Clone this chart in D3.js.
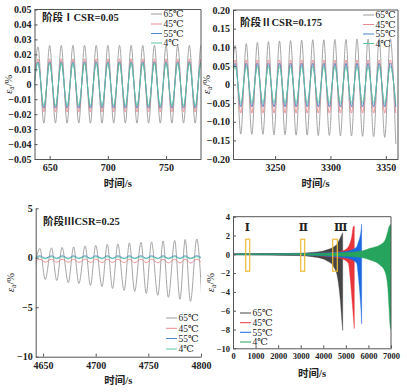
<!DOCTYPE html>
<html><head><meta charset="utf-8">
<script src="https://cdn.jsdelivr.net/npm/d3@7"></script>
<style>body{margin:0;background:#fff}</style>
</head><body><svg id="c" width="407" height="392"></svg>
<script>
// ---------- DATA ----------
const seriesNames = ["65℃", "45℃", "55℃", "4℃"];
const lightColors = ["#9c9c9c", "#e98a8e", "#4f86c6", "#5cc9a2"];
const darkColors  = ["#444444", "#e8353c", "#1c68e0", "#26a35c"];

// Panel 1 (stage I, CSR=0.05): extrema of each cycle
const p1PeakT   = [640,650,660,670,680,690,700,710,720,730,740,750,760,770,780];
const p1TroughT = [635,645,655,665,675,685,695,705,715,725,735,745,755,765,775,785];
const p1Peak = [
  [0.025,0.026,0.026,0.026,0.026,0.026,0.026,0.026,0.026,0.026,0.026,0.026,0.026,0.026,0.026],
  [0.017,0.017,0.017,0.017,0.017,0.017,0.017,0.017,0.017,0.017,0.017,0.017,0.017,0.017,0.017],
  [0.015,0.015,0.015,0.015,0.015,0.015,0.015,0.015,0.015,0.015,0.015,0.015,0.015,0.015,0.015],
  [0.014,0.014,0.014,0.014,0.014,0.014,0.014,0.014,0.014,0.014,0.014,0.014,0.014,0.014,0.014]];
const p1Trough = [
  [-0.026,-0.026,-0.026,-0.026,-0.026,-0.026,-0.026,-0.026,-0.026,-0.026,-0.026,-0.026,-0.026,-0.026,-0.026,-0.026],
  [-0.0185,-0.0185,-0.0185,-0.0185,-0.0185,-0.0185,-0.0185,-0.0185,-0.0185,-0.0185,-0.0185,-0.0185,-0.0185,-0.0185,-0.0185,-0.0185],
  [-0.016,-0.016,-0.016,-0.016,-0.016,-0.016,-0.016,-0.016,-0.016,-0.016,-0.016,-0.016,-0.016,-0.016,-0.016,-0.016],
  [-0.0145,-0.0145,-0.0145,-0.0145,-0.0145,-0.0145,-0.0145,-0.0145,-0.0145,-0.0145,-0.0145,-0.0145,-0.0145,-0.0145,-0.0145,-0.0145]];
const p1XTicks = [650, 700, 750];
const p1YTicks = [-0.05,-0.04,-0.03,-0.02,-0.01,0,0.01,0.02,0.03,0.04,0.05];

// Panel 2 (stage II, CSR=0.175)
const p2PeakT   = [3214,3224,3234,3244,3254,3264,3274,3284,3294,3304,3314,3324,3334,3344,3354];
const p2TroughT = [3209,3219,3229,3239,3249,3259,3269,3279,3289,3299,3309,3319,3329,3339,3349,3359];
const p2Peak = [
  [0.105,0.110,0.113,0.115,0.117,0.118,0.119,0.120,0.120,0.121,0.121,0.122,0.122,0.123,0.123],
  [0.066,0.066,0.066,0.066,0.066,0.066,0.066,0.066,0.066,0.066,0.066,0.066,0.066,0.066,0.066],
  [0.057,0.057,0.057,0.057,0.057,0.057,0.057,0.057,0.057,0.057,0.057,0.057,0.057,0.057,0.057],
  [0.048,0.048,0.048,0.048,0.048,0.048,0.048,0.048,0.048,0.048,0.048,0.048,0.048,0.048,0.048]];
const p2Trough = [
  [-0.130,-0.133,-0.134,-0.134,-0.135,-0.135,-0.136,-0.136,-0.137,-0.137,-0.138,-0.138,-0.139,-0.140,-0.142,-0.160],
  [-0.077,-0.077,-0.077,-0.077,-0.077,-0.077,-0.077,-0.077,-0.077,-0.077,-0.077,-0.077,-0.077,-0.077,-0.077,-0.077],
  [-0.060,-0.060,-0.060,-0.060,-0.060,-0.060,-0.060,-0.060,-0.060,-0.060,-0.060,-0.060,-0.060,-0.060,-0.060,-0.060],
  [-0.050,-0.050,-0.050,-0.050,-0.050,-0.050,-0.050,-0.050,-0.050,-0.050,-0.050,-0.050,-0.050,-0.050,-0.050,-0.050]];
const p2XTicks = [3250, 3300, 3350];
const p2YTicks = [-0.20,-0.15,-0.10,-0.05,0,0.05,0.10,0.15,0.20];

// Panel 3 (stage III, CSR=0.25)
const p3PeakT   = [4647,4658,4668,4679,4690,4700,4711,4721,4732,4743,4753,4764,4775,4785,4796];
const p3TroughT = [4642,4652,4663,4674,4684,4695,4706,4716,4727,4737,4748,4759,4769,4780,4790,4801];
const p3Peak = [
  [0.95,1.0,1.05,1.1,1.2,1.25,1.35,1.4,1.5,1.55,1.6,1.7,1.75,1.85,1.9],
  [-0.15,-0.15,-0.15,-0.15,-0.15,-0.15,-0.15,-0.15,-0.15,-0.15,-0.15,-0.15,-0.15,-0.15,-0.15],
  [0.2,0.2,0.2,0.2,0.2,0.2,0.2,0.2,0.2,0.2,0.2,0.2,0.2,0.2,0.2],
  [0.1,0.1,0.1,0.1,0.1,0.1,0.1,0.1,0.1,0.1,0.1,0.1,0.1,0.1,0.1]];
const p3Trough = [
  [-1.0,-2.2,-2.3,-2.5,-2.6,-2.8,-2.9,-3.1,-3.3,-3.4,-3.6,-3.8,-4.0,-4.2,-4.4,-4.6],
  [-0.45,-0.45,-0.45,-0.46,-0.46,-0.47,-0.48,-0.48,-0.49,-0.5,-0.5,-0.51,-0.52,-0.53,-0.54,-0.55],
  [-0.05,-0.05,-0.05,-0.05,-0.05,-0.05,-0.05,-0.05,-0.05,-0.05,-0.05,-0.05,-0.05,-0.05,-0.05,-0.05],
  [-0.1,-0.1,-0.1,-0.1,-0.1,-0.1,-0.1,-0.1,-0.1,-0.1,-0.1,-0.1,-0.1,-0.1,-0.1,-0.1]];
const p3XTicks = [4650, 4700, 4750, 4800];
const p3YTicks = [-10, -5, 0, 5];

// Panel 4 (whole test): envelopes of each series
const p4T = [
  [0,1000,2000,3000,3500,4000,4200,4400,4500,4600,4700,4760,4820,4860],
  [0,1000,2000,3000,4000,4500,4900,5110,5185,5260,5330,5375],
  [0,1000,2000,3000,4000,4500,5000,5300,5480,5555,5630,5670,5700],
  [0,1000,2000,3000,4000,5000,5700,6070,6510,6735,6855,6910,6956,7000]];
const p4Upper = [
  [0.05,0.06,0.08,0.12,0.2,0.35,0.5,0.7,0.85,1.05,1.5,1.8,2.1,2.3],
  [0.04,0.05,0.06,0.08,0.15,0.22,0.4,0.8,1.2,1.87,2.94,3.0],
  [0.04,0.05,0.06,0.08,0.14,0.2,0.3,0.5,0.8,1.3,1.9,2.5,3.2],
  [0.04,0.05,0.06,0.08,0.12,0.2,0.35,0.64,1.0,1.5,2.4,2.9,3.1,3.2]];
const p4Lower = [
  [-0.05,-0.06,-0.09,-0.15,-0.25,-0.5,-0.75,-1.1,-1.5,-2.1,-3.6,-5.0,-7.0,-8.1],
  [-0.04,-0.05,-0.07,-0.1,-0.2,-0.32,-0.55,-0.96,-2.38,-4.5,-6.6,-7.9],
  [-0.04,-0.05,-0.06,-0.09,-0.17,-0.27,-0.4,-0.6,-0.96,-2.38,-4.5,-5.9,-7.4],
  [-0.04,-0.05,-0.06,-0.08,-0.12,-0.22,-0.35,-0.6,-1.14,-1.85,-3.45,-5.6,-7.5,-8.0]];
const p4XTicks = [0,1000,2000,3000,4000,5000,6000,7000];
const p4YTicks = [-10,-8,-6,-4,-2,0,2,4];
const stageLabels = ["Ⅰ", "Ⅱ", "Ⅲ"];
const stageLabelT = [634, 3115, 4772];
const stageLabelY = [3, 3, 3];
const stageBoxT0 = [563, 3000, 4417];
const stageBoxT1 = [740, 3177, 4621];
const stageBoxY0 = [-1.8, -1.8, -1.8];
const stageBoxY1 = [1.6, 1.6, 1.6];

// ---------- DRAW ----------
const svg = d3.select("#c");
svg.append("rect").attr("width",407).attr("height",392).attr("fill","#fff");
const NUM = "'Liberation Serif','DejaVu Serif',serif";
const CJK = "'Liberation Serif','Noto Sans CJK SC',serif";
let clipId = 0;

function panel(o) {
  const x = d3.scaleLinear().domain(o.xd).range(o.xr);
  const y = d3.scaleLinear().domain(o.yd).range(o.yr);
  const g = svg.append("g");
  const id = "clip" + (clipId++);
  svg.append("clipPath").attr("id", id).append("rect")
    .attr("x", o.xr[0]).attr("y", o.yr[1]).attr("width", o.xr[1]-o.xr[0]).attr("height", o.yr[0]-o.yr[1]);
  const plot = g.append("g").attr("clip-path", `url(#${id})`);
  const xa = g.append("g").attr("transform", `translate(0,${o.yr[0]})`)
    .call(d3.axisBottom(x).tickValues(o.xt).tickSizeInner(-3).tickSizeOuter(0).tickPadding(5).tickFormat(d3.format("d")));
  const ya = g.append("g").attr("transform", `translate(${o.xr[0]},0)`)
    .call(d3.axisLeft(y).tickValues(o.yt).tickSizeInner(-3).tickSizeOuter(0).tickPadding(3).tickFormat(o.yf));
  [xa, ya].forEach(a => {
    a.select(".domain").attr("stroke", "#555").attr("stroke-width", 1);
    a.selectAll(".tick line").attr("stroke", "#555");
    a.selectAll("text").attr("font-family", NUM).attr("font-size", o.fs).attr("font-weight", "bold").attr("fill", "#222");
  });
  if (o.box) {
    g.append("line").attr("x1", o.xr[0]).attr("x2", o.xr[1]).attr("y1", o.yr[1]).attr("y2", o.yr[1]).attr("stroke", "#555");
    g.append("line").attr("x1", o.xr[1]).attr("x2", o.xr[1]).attr("y1", o.yr[1]).attr("y2", o.yr[0]).attr("stroke", "#555");
  }
  g.append("text").attr("x", (o.xr[0]+o.xr[1])/2).attr("y", o.xtitleY)
    .attr("text-anchor", "middle").attr("font-family", CJK).attr("font-size", 10.5).attr("font-weight", "bold").attr("fill", "#222")
    .text("时间/s");
  const yl = g.append("text").attr("transform", `translate(${o.ylabX},${(o.yr[0]+o.yr[1])/2}) rotate(-90)`)
    .attr("text-anchor", "middle").attr("font-family", NUM).attr("font-size", 10.5).attr("fill", "#222");
  yl.append("tspan").attr("font-style", "italic").text("ε");
  yl.append("tspan").attr("font-size", 7.5).attr("dy", 2).text("a");
  yl.append("tspan").attr("dy", -2).text("/%");
  return {x, y, g, plot};
}

function wavePoints(peakT, peakV, troughT, troughV) {
  const pts = peakT.map((t, i) => [t, peakV[i]]).concat(troughT.map((t, i) => [t, troughV[i]]));
  pts.sort((a, b) => a[0] - b[0]);
  return pts;
}

function drawWaves(P, peakT, peaks, troughT, troughs) {
  const line = d3.line().x(d => P.x(d[0])).y(d => P.y(d[1])).curve(d3.curveMonotoneX);
  seriesNames.forEach((s, i) => {
    P.plot.append("path").attr("d", line(wavePoints(peakT, peaks[i], troughT, troughs[i])))
      .attr("fill", "none").attr("stroke", lightColors[i]).attr("stroke-width", 0.9);
  });
}

function legend(g, x0, ys, colors) {
  seriesNames.forEach((s, i) => {
    g.append("line").attr("x1", x0).attr("x2", x0 + 11).attr("y1", ys[i]).attr("y2", ys[i])
      .attr("stroke", colors[i]).attr("stroke-width", 1);
    g.append("text").attr("x", x0 + 12.5).attr("y", ys[i] + 3.3).attr("font-family", NUM)
      .attr("font-size", 9.5).attr("fill", "#222").text(s);
  });
}

function stageTitle(g, x, y, txt) {
  g.append("text").attr("x", x).attr("y", y).attr("font-family", CJK).attr("font-size", 10.5)
    .attr("font-weight", "bold").attr("fill", "#222").text(txt);
}

const fmt2 = d => d === 0 ? "0" : d3.format(".2f")(d);
const fmtD = d3.format("d");

// Panel 1
const P1 = panel({xd:[637,780], xr:[34.5,201], yd:[-0.05,0.05], yr:[159,9.5], xt:p1XTicks, yt:p1YTicks, yf:fmt2, box:true, xtitleY:187, ylabX:12, fs:10});
drawWaves(P1, p1PeakT, p1Peak, p1TroughT, p1Trough);
legend(P1.g, 151, [14, 24, 33.5, 43], lightColors);
stageTitle(P1.g, 42, 21, "阶段ⅠCSR=0.05");

// Panel 2
const P2 = panel({xd:[3212,3361], xr:[233,398], yd:[-0.2,0.2], yr:[159,10], xt:p2XTicks, yt:p2YTicks, yf:fmt2, box:true, xtitleY:187, ylabX:210, fs:10});
drawWaves(P2, p2PeakT, p2Peak, p2TroughT, p2Trough);
legend(P2.g, 363, [15, 24.5, 34, 43.5], lightColors);
stageTitle(P2.g, 240, 26, "阶段ⅡCSR=0.175");

// Panel 3
const P3 = panel({xd:[4643,4800], xr:[35.7,201], yd:[-10,5], yr:[356.7,208.3], xt:p3XTicks, yt:p3YTicks, yf:fmtD, box:false, xtitleY:384, ylabX:14, fs:10});
drawWaves(P3, p3PeakT, p3Peak, p3TroughT, p3Trough);
legend(P3.g, 166, [318, 328.3, 338.5, 349], lightColors);
stageTitle(P3.g, 43, 225, "阶段ⅢCSR=0.25");

// Panel 4
const P4 = panel({xd:[0,7000], xr:[233,391], yd:[-10,4], yr:[348.3,216.7], xt:p4XTicks, yt:p4YTicks, yf:fmtD, box:true, xtitleY:377, ylabX:214, fs:8.5});
const area = d3.area().x(d => P4.x(d[0])).y0(d => P4.y(d[2])).y1(d => P4.y(d[1])).curve(d3.curveMonotoneX);
seriesNames.forEach((s, i) => {
  const pts = p4T[i].map((t, k) => [t, p4Upper[i][k], p4Lower[i][k]]);
  P4.plot.append("path").attr("d", area(pts)).attr("fill", darkColors[i]).attr("stroke", darkColors[i]).attr("stroke-width", 0.4);
});
stageLabels.forEach((s, i) => {
  P4.g.append("rect").attr("x", P4.x(stageBoxT0[i])).attr("y", P4.y(stageBoxY1[i]))
    .attr("width", P4.x(stageBoxT1[i]) - P4.x(stageBoxT0[i])).attr("height", P4.y(stageBoxY0[i]) - P4.y(stageBoxY1[i]))
    .attr("fill", "none").attr("stroke", "#edbb3a").attr("stroke-width", 1.2);
  P4.g.append("text").attr("x", P4.x(stageLabelT[i])).attr("y", P4.y(stageLabelY[i]) + 4.5)
    .attr("text-anchor", "middle").attr("font-family", "'DejaVu Serif',serif").attr("font-size", 11).attr("font-weight", "bold").attr("fill", "#222").text(s);
});
legend(P4.g, 240, [313, 322.7, 332.3, 342], darkColors);
</script></body></html>
